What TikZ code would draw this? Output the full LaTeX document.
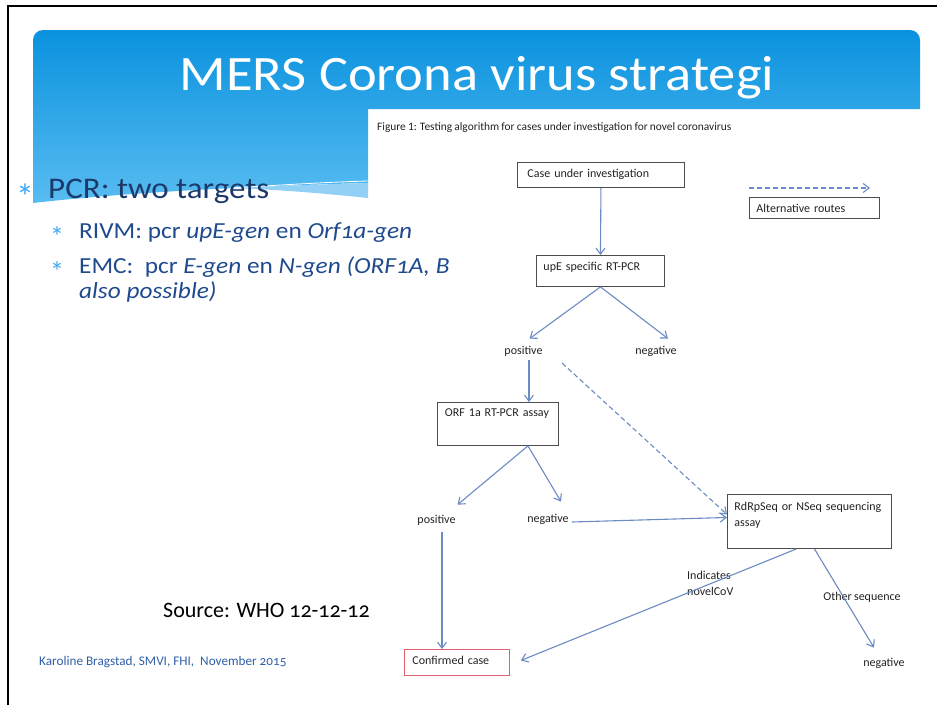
\documentclass[tikz,border=0pt]{standalone}
\usepackage{fontspec}
\setmainfont{Carlito}[WordSpace=0.85]
\newfontfamily\slidefont{Carlito}[Numbers=OldStyle, FakeStretch=1.1]
\newfontfamily\plainslide{Carlito}[Numbers=OldStyle]
\usetikzlibrary{arrows.meta,calc}
\definecolor{hdtop}{HTML}{0A92DE}
\definecolor{hdbot}{HTML}{58BCF1}
\definecolor{band}{HTML}{92D1F5}
\definecolor{navy}{HTML}{1B3A6B}
\definecolor{subblue}{HTML}{1F4A8E}
\definecolor{astblue}{HTML}{3FA9F5}
\definecolor{footblue}{HTML}{2E5FA8}
\definecolor{arrblue}{HTML}{6B8BC3}
\definecolor{boxgrey}{HTML}{4D4D4D}
\definecolor{figtext}{HTML}{222222}
\definecolor{confred}{HTML}{E0606E}
\tikzset{
  x=1pt, y=-1pt,
  fbox/.style={draw=boxgrey, line width=0.9pt, anchor=north west, inner ysep=0pt,
    align=left, text=figtext, font=\fontsize{12}{16.5}\selectfont},
  flab/.style={text=figtext, font=\fontsize{12}{15.5}\selectfont, inner sep=1pt},
  arr/.style={draw=arrblue, line width=1.1pt, -{Straight Barb[length=6pt,width=9pt]}},
  ast/.style={text=astblue, anchor=base},
}
\begin{document}
\begin{tikzpicture}
\useasboundingbox (0,0) rectangle (937,705);
% slide frame lines
\draw[line width=2pt] (8,705) -- (8,6) -- (937,6);
% header
\begin{scope}
\clip[rounded corners=10pt] (33,30) rectangle (920,260);
\shade[top color=hdtop, bottom color=hdbot]
  (33,30) -- (920,30) -- (920,109) -- (368,109) -- (368,183)
  .. controls (250,186) and (120,193) .. (33,203) -- cycle;
\fill[band] (368,183) -- (368,198) .. controls (320,193) and (270,189) .. (230,188)
  .. controls (280,186) and (330,184) .. (368,183) -- cycle;
\draw[white, line width=0.8pt] (230,188) .. controls (280,185) and (330,182) .. (368,181);
\end{scope}
\node[text=white, font=\slidefont\fontsize{49.5}{60}\selectfont, anchor=base] (title) at (477,90) {MERS Corona virus strategi};
% bullets
\node[ast, font=\fontsize{36}{36}\selectfont] (b0) at (25,209) {*};
\node[text=navy, font=\slidefont\fontsize{30}{32}\selectfont, anchor=base west, inner sep=0pt] (t0) at (48,198) {PCR: two targets};
\node[ast, font=\fontsize{28}{28}\selectfont] (b1) at (57,246) {*};
\node[text=subblue, font=\slidefont\fontsize{23}{27}\selectfont, anchor=base west, inner sep=0pt] (t1) at (79,238) {RIVM: pcr \textit{upE-gen} en \textit{Orf1a-gen}};
\node[ast, font=\fontsize{28}{28}\selectfont] (b2) at (57,281) {*};
\node[text=subblue, font=\slidefont\fontsize{23}{27}\selectfont, anchor=base west, inner sep=0pt] (t2) at (79,273) {EMC:\ \ pcr \textit{E-gen} en \textit{N-gen (ORF1A, B}};
\node[text=subblue, font=\slidefont\fontsize{23}{27}\selectfont, anchor=base west, inner sep=0pt] (t3) at (79,298) {\textit{also possible)}};
\node[text=black, font=\plainslide\fontsize{22}{24}\selectfont, anchor=base west, inner sep=0pt] (src) at (163,617) {Source: WHO 12-12-12};
\node[text=footblue, font=\plainslide\fontsize{13.2}{15}\selectfont, anchor=base west, inner sep=0pt] (foot) at (39,665) {Karoline Bragstad, SMVI, FHI,\ \ November 2015};
% figure panel
\node[text=figtext, font=\fontsize{11.4}{13}\selectfont, anchor=base west, inner sep=0pt] (cap) at (377,130) {Figure 1: Testing algorithm for cases under investigation for novel coronavirus};
\node[fbox, inner xsep=10pt, text width=147pt, text height=15pt, text depth=10pt] (case) at (517,162) {Case under investigation};
\node[fbox, inner xsep=7pt, text width=116pt, text height=15pt, text depth=6pt] (alt) at (749,197) {Alternative routes};
\node[fbox, inner xsep=7pt, text width=114pt, text height=15pt, text depth=16pt] (upe) at (536,255) {upE specific RT-PCR};
\node[flab] (pos1) at (523.5,351) {positive};
\node[flab] (neg1) at (656,351) {negative};
\node[fbox, inner xsep=7.5pt, text width=106pt, text height=14pt, text depth=29pt] (orf) at (437,402) {ORF 1a RT-PCR assay};
\node[flab] (pos2) at (436.5,520) {positive};
\node[flab] (neg2) at (548,519) {negative};
\node[fbox, inner xsep=7pt, text width=150pt, text height=16pt, text depth=38pt] (rdrp) at (727,494) {RdRpSeq or NSeq sequencing\\assay};
\node[flab, align=left, anchor=north west] (ind) at (686,570) {Indicates\\novelCoV};
\node[flab] (oth) at (862,597) {Other sequence};
\node[flab] (neg3) at (884,663) {negative};
\node[fbox, draw=confred, inner xsep=8pt, text width=89pt, text height=15pt, text depth=11pt] (conf) at (404,649) {Confirmed case};
% legend arrow
\coordinate (l1) at (749,188);
\coordinate (l2) at (870,188);
\draw[arr, dashed, dash pattern=on 5pt off 3pt] (l1) -- (l2);
\coordinate (dstart) at (562,363);
% connectors
\draw[arr] (case.south) -- (upe.north);
\draw[arr] (upe.south) -- ([xshift=6pt,yshift=6pt]pos1.north);
\draw[arr] (upe.south) -- ([xshift=12pt,yshift=6pt]neg1.north);
\draw[arr] ([xshift=5.5pt,yshift=-3pt]pos1.south) -- ([xshift=5.5pt]pos1.south |- orf.north);
\draw[arr, dashed, dash pattern=on 5pt off 3pt] (dstart) -- ([yshift=7pt]rdrp.west);
\draw[arr] ([xshift=30pt]orf.south) -- ([xshift=21pt,yshift=9pt]pos2.north);
\draw[arr] ([xshift=30pt]orf.south) -- ([xshift=13pt,yshift=11pt]neg2.north);
\draw[arr] ([xshift=2pt,yshift=-3pt]neg2.east) -- ([yshift=4pt]rdrp.west);
\draw[arr] ([xshift=5.5pt,yshift=-6pt]pos2.south) -- ([xshift=5.5pt]pos2.south |- conf.north);
\draw[arr] ([xshift=-13pt]rdrp.south) -- ([xshift=11pt,yshift=2pt]conf.east);
\draw[arr] ([xshift=5pt]rdrp.south) -- ([xshift=-10pt,yshift=9pt]neg3.north);
\end{tikzpicture}
\end{document}
